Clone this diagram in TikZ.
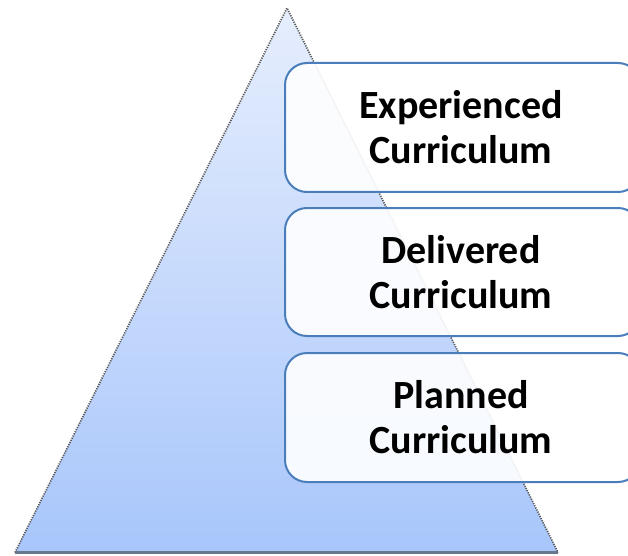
\documentclass[tikz,border=0pt]{standalone}
\usepackage{fontspec}
\setmainfont{Carlito}
\begin{document}
\begin{tikzpicture}[x=1pt,y=1pt,
  level/.style={draw=levelblue, line width=2pt, rounded corners=22pt,
    fill=white, fill opacity=0.9},
  leveltext/.style={font=\bfseries\fontsize{40}{45}\selectfont, align=center, text=black}]
\definecolor{levelblue}{HTML}{4A7EBB}
\definecolor{pyrtop}{HTML}{E6EEFD}
\definecolor{pyrbot}{HTML}{A8C6FB}
\definecolor{pyredge}{HTML}{5A5A5A}
\definecolor{pyrbase}{HTML}{66788C}
\useasboundingbox (0,0) rectangle (628,555);
\clip (0,0) rectangle (628,555);
% pyramid
\coordinate (apex) at (287,547);
\coordinate (bl) at (15,2.5);
\coordinate (br) at (558,2.5);
\shade[top color=pyrtop, bottom color=pyrbot] (apex) -- (bl) -- (br) -- cycle;
\draw[pyredge, line width=1.7pt, dash pattern=on 1.2pt off 1.2pt] (bl) -- (apex) -- (br);
\draw[pyrbase, line width=3pt] (bl) -- (br);
% levels
\draw[level] (285,363) rectangle (640,492);
\draw[level] (285,219) rectangle (640,347);
\draw[level] (285,73) rectangle (640,202);
\node[leveltext] (exp) at (461,427.5) {Experienced\\Curriculum};
\node[leveltext] (del) at (461,283) {Delivered\\Curriculum};
\node[leveltext] (pla) at (461,137.5) {Planned\\Curriculum};
\end{tikzpicture}
\end{document}
